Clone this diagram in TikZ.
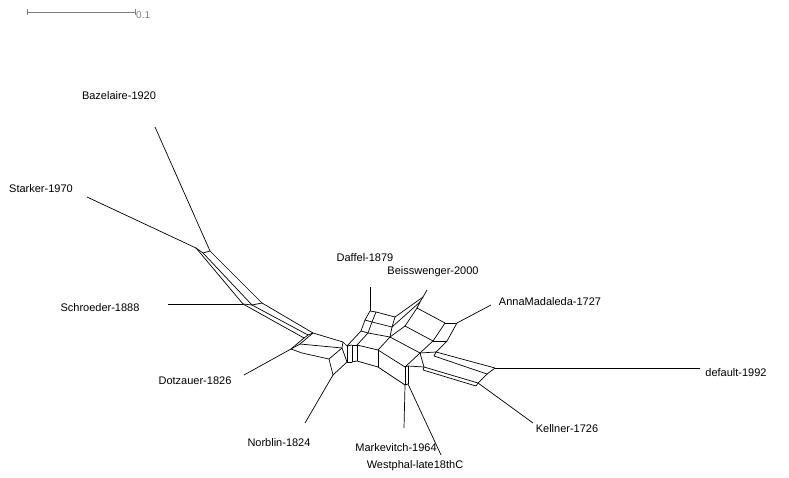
\documentclass[tikz,border=0pt]{standalone}
\usepackage{fontspec}
\setmainfont{Liberation Sans}
\usetikzlibrary{positioning}
\definecolor{barc}{HTML}{808080}

\begin{document}
\begin{tikzpicture}[x=1pt,y=-1pt,
    edge/.style={line width=0.7pt,line join=round},
    taxon/.style={font=\fontsize{11}{13}\selectfont,inner sep=0pt}]
  \useasboundingbox (0,0) rectangle (789,478);
  % scale bar
  \coordinate (sb0) at (27,12);
  \coordinate (sb1) at (135,12);
  \draw[barc,line width=0.6pt] (sb0) -- (sb1);
  \draw[barc,line width=0.6pt] ([yshift=-3pt]sb0) -- ([yshift=3pt]sb0);
  \draw[barc,line width=0.6pt] ([yshift=-3pt]sb1) -- ([yshift=3pt]sb1);
  \node[barc,font=\fontsize{10}{12}\selectfont,anchor=west,inner sep=0pt] (sblab) at (136,15) {0.1};

  % inner vertices of the network
  \foreach \n/\x/\y in {sS/196/248, sM/203/253, sB/210/251,
      hA/243/304, hB/252/305, hC/262/303,
      kA/304/338, kB/308/335, kC/313/333,
      dA/291/349, dC/300/344, dD/302/353,
      cT/343/342, n1/329/359, n2/342/348, n4/333/375,
      c1t/347/346, c2t/352/345, c3t/357/345,
      c1b/347/362, c2b/352/362, c3b/357/361,
      m1/378/350, m2/378/367,
      w1/405/367, w2/408/366, w3/405/385, w4/408/384,
      g1/420/353, g2/436/352, g4/434/356, g3/424/367, g5/423/370,
      R1/495/368, R2/487/374, R3/478/383, R4/476/386,
      a1/370/311, a2/376/312, a3/395/317,
      b1/365/320, b2/372/322, b3/392/327,
      q1/361/331, q2/368/333, q3/390/337,
      e1/423/297, e2/420/302, e3/417/308, x1/405/326,
      f2/445/323, f3/457/323, f4/433/341, f5/447/341}
    \coordinate (\n) at (\x,\y);

  % splits
  \foreach \a/\b in {sS/sM, sM/sB, sS/hA, sM/hB, sB/hC, hA/hB, hB/hC,
      hA/kA, hB/kB, hC/kC, kA/kB, kB/kC, kA/dA, kC/dC, dA/dC, dA/dD,
      kC/cT, cT/c1t, cT/n2, dC/n2, dD/n1, n1/n2, n2/c1b, c1b/n4, n4/n1,
      c1t/c2t, c2t/c3t, c1b/c2b, c2b/c3b, c1t/c1b, c2t/c2b, c3t/c3b,
      c3t/m1, c3b/m2, m1/m2, m1/w1, m2/w3,
      w1/w2, w1/w3, w2/w4, w3/w4,
      a1/a2, a2/a3, b1/b2, b2/b3, q1/q2, q2/q3,
      a1/b1, b1/q1, a2/b2, b2/q2, a3/b3, b3/q3,
      q1/c1t, q2/c3t, q3/m1, q3/g1, g1/w1,
      e1/e2, a3/e1, b3/e2, e2/e3, e3/f2, e3/x1, x1/f4, x1/q3,
      f2/f3, f2/f4, f3/f5, f4/f5,
      f4/g1, f5/g2, g1/g2, g2/g4, g2/R1, g4/R2, R1/R2, R2/R3, R3/R4,
      g1/g3, w2/g3, g3/g5, g3/R3, g5/R4}
    \draw[edge] (\a) -- (\b);

  % taxa
  \node[taxon] (baz) at (119,96) {Bazelaire-1920};
  \node[taxon] (sta) at (41,189) {Starker-1970};
  \node[taxon] (sch) at (100,308) {Schroeder-1888};
  \node[taxon] (dot) at (195,381) {Dotzauer-1826};
  \node[taxon] (nor) at (279,443) {Norblin-1824};
  \node[taxon] (mar) at (396,448) {Markevitch-1964};
  \node[taxon] (wes) at (415,466) {Westphal-late18thC};
  \node[taxon] (kel) at (567,429) {Kellner-1726};
  \node[taxon] (def) at (736,373) {default-1992};
  \node[taxon] (ann) at (550,302) {AnnaMadaleda-1727};
  \node[taxon] (bei) at (433,272) {Beisswenger-2000};
  \node[taxon] (daf) at (365,258) {Daffel-1879};

  % leaf edges
  \foreach \t/\x/\y/\v in {baz/155/127/sB, sta/87/197/sS, sch/168/304/hA,
      dot/244/375/dA, nor/305/423/n4, mar/404/428/w3, wes/441/455/w4,
      kel/533/423/R3, def/700/368/R1, ann/491/305/f3, bei/427/290/e1,
      daf/370/287/a1} {
    \coordinate (\t-end) at (\x,\y);
    \draw[edge] (\t-end) -- (\v);
  }
\end{tikzpicture}
\end{document}
